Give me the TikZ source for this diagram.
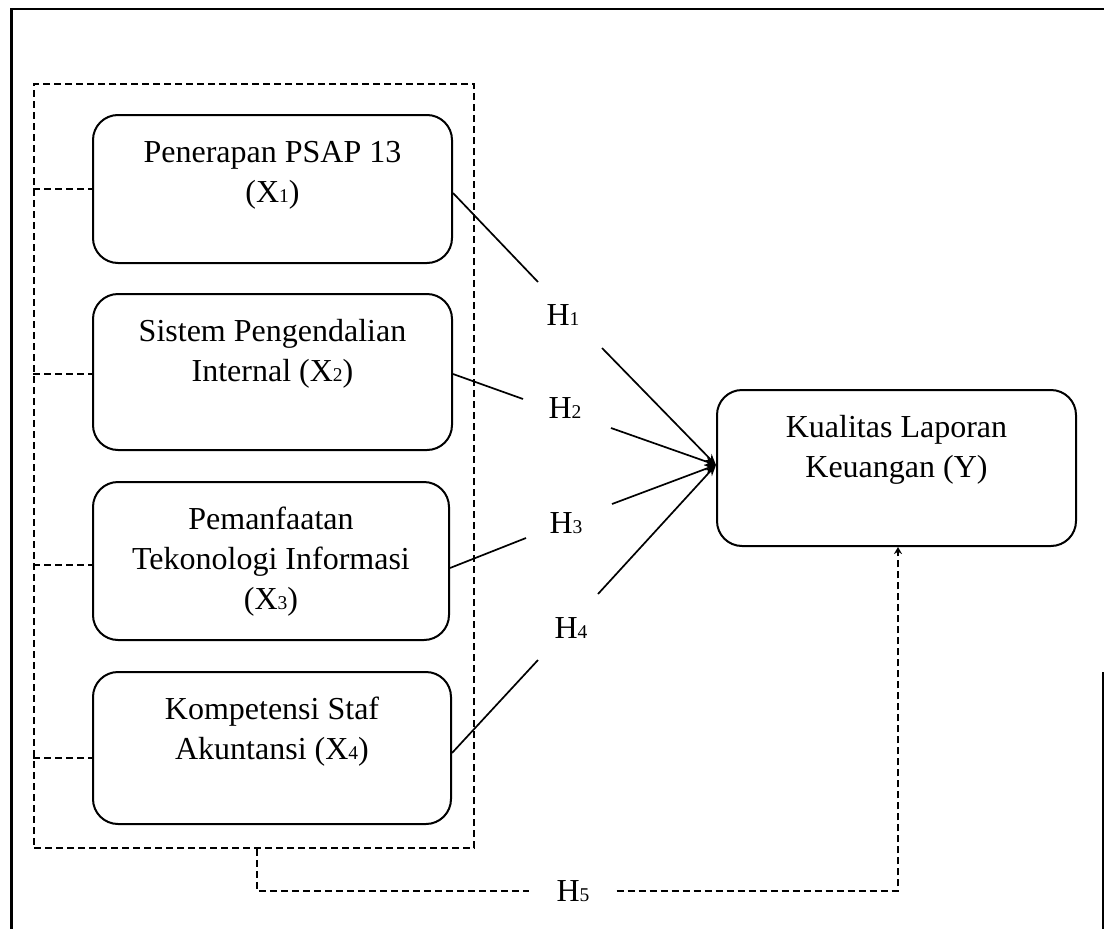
\documentclass[tikz,border=0pt]{standalone}
\usepackage{fontspec}
\setmainfont{Liberation Serif}
\usetikzlibrary{arrows.meta}
\newcommand{\sbs}[1]{{\fontsize{19.5}{19.5}\selectfont #1}}
\begin{document}
\begin{tikzpicture}[x=1pt,y=-1pt,
  box/.style={draw, line width=2pt, rounded corners=25pt, inner sep=0pt},
  txt/.style={align=center, inner sep=0pt, anchor=north, font=\fontsize{32}{40}\selectfont},
  hlab/.style={inner sep=0pt, font=\fontsize{32}{40}\selectfont},
  conn/.style={line width=1.7pt},
  arr/.style={conn, -{Stealth[length=11pt,width=9pt]}},
  dsh/.style={line width=1.6pt, dash pattern=on 7pt off 4pt},
  frame/.style={line width=2.4pt}]
\useasboundingbox (0,0) rectangle (1104,929);

% page frame
\draw[frame] (11.5,929) -- (11.5,9) -- (1104,9);
\draw[frame] (1103,672) -- (1103,929);

% dashed group box
\node[dsh, draw, inner sep=0pt, minimum width=440pt, minimum height=764pt] (grp) at (254,466) {};

% variable boxes
\node[box, minimum width=359pt, minimum height=148pt] (X1) at (272.5,189) {};
\node[box, minimum width=359pt, minimum height=156pt] (X2) at (272.5,372) {};
\node[box, minimum width=356pt, minimum height=158pt] (X3) at (271,561) {};
\node[box, minimum width=358pt, minimum height=152pt] (X4) at (272,748) {};
\node[box, minimum width=359pt, minimum height=156pt] (Y) at (896.5,468) {};

% texts
\node[txt] (t1) at (272.5,134) {\strut Penerapan PSAP 13\\(X\sbs{1})};
\node[txt] (t2) at (272.5,313) {\strut Sistem Pengendalian\\Internal (X\sbs{2})};
\node[txt] (t3) at (271,501) {\strut Pemanfaatan\\Tekonologi Informasi\\(X\sbs{3})};
\node[txt] (t4) at (272,691) {\strut Kompetensi Staf\\Akuntansi (X\sbs{4})};
\node[txt] (tY) at (896.5,409) {\strut Kualitas Laporan\\Keuangan (Y)};

% dashed ties to group
\draw[dsh] (grp.west |- X1.west) -- (X1.west);
\draw[dsh] ([yshift=-2pt]grp.west |- X2.west) -- ([yshift=-2pt]X2.west);
\draw[dsh] ([yshift=-4pt]grp.west |- X3.west) -- ([yshift=-4pt]X3.west);
\draw[dsh] ([yshift=-10pt]grp.west |- X4.west) -- ([yshift=-10pt]X4.west);

% hypothesis labels
\node[hlab] (H1) at (563,315.5) {H\sbs{1}};
\node[hlab] (H2) at (565,408) {H\sbs{2}};
\node[hlab] (H3) at (566,523) {H\sbs{3}};
\node[hlab] (H4) at (571,628) {H\sbs{4}};
\node[hlab, inner xsep=27pt] (H5) at (573,891) {H\sbs{5}};

% gap coordinates
\coordinate (g1a) at (538,282); \coordinate (g1b) at (602,348);
\coordinate (g2a) at (523,399); \coordinate (g2b) at (611,428);
\coordinate (g3a) at (526,538); \coordinate (g3b) at (612,504);
\coordinate (g4a) at (538,660); \coordinate (g4b) at (598,594);
\coordinate (tip) at ([yshift=3pt]Y.west);

% connectors
\draw[conn] ([yshift=-4pt]X1.east) -- (g1a);
\draw[arr] (g1b) -- (tip);
\draw[conn] ([yshift=-2pt]X2.east) -- (g2a);
\draw[arr] (g2b) -- (tip);
\draw[conn] ([yshift=-7pt]X3.east) -- (g3a);
\draw[arr] (g3b) -- (tip);
\draw[conn] ([yshift=-5pt]X4.east) -- (g4a);
\draw[arr] (g4b) -- (tip);

% H5 path
\draw[dsh] ([xshift=3pt]grp.south) |- (H5.west);
\draw[dsh, -{Stealth[length=7pt,width=8pt]}] (H5.east) -| ([xshift=1.5pt]Y.south);
\end{tikzpicture}
\end{document}
